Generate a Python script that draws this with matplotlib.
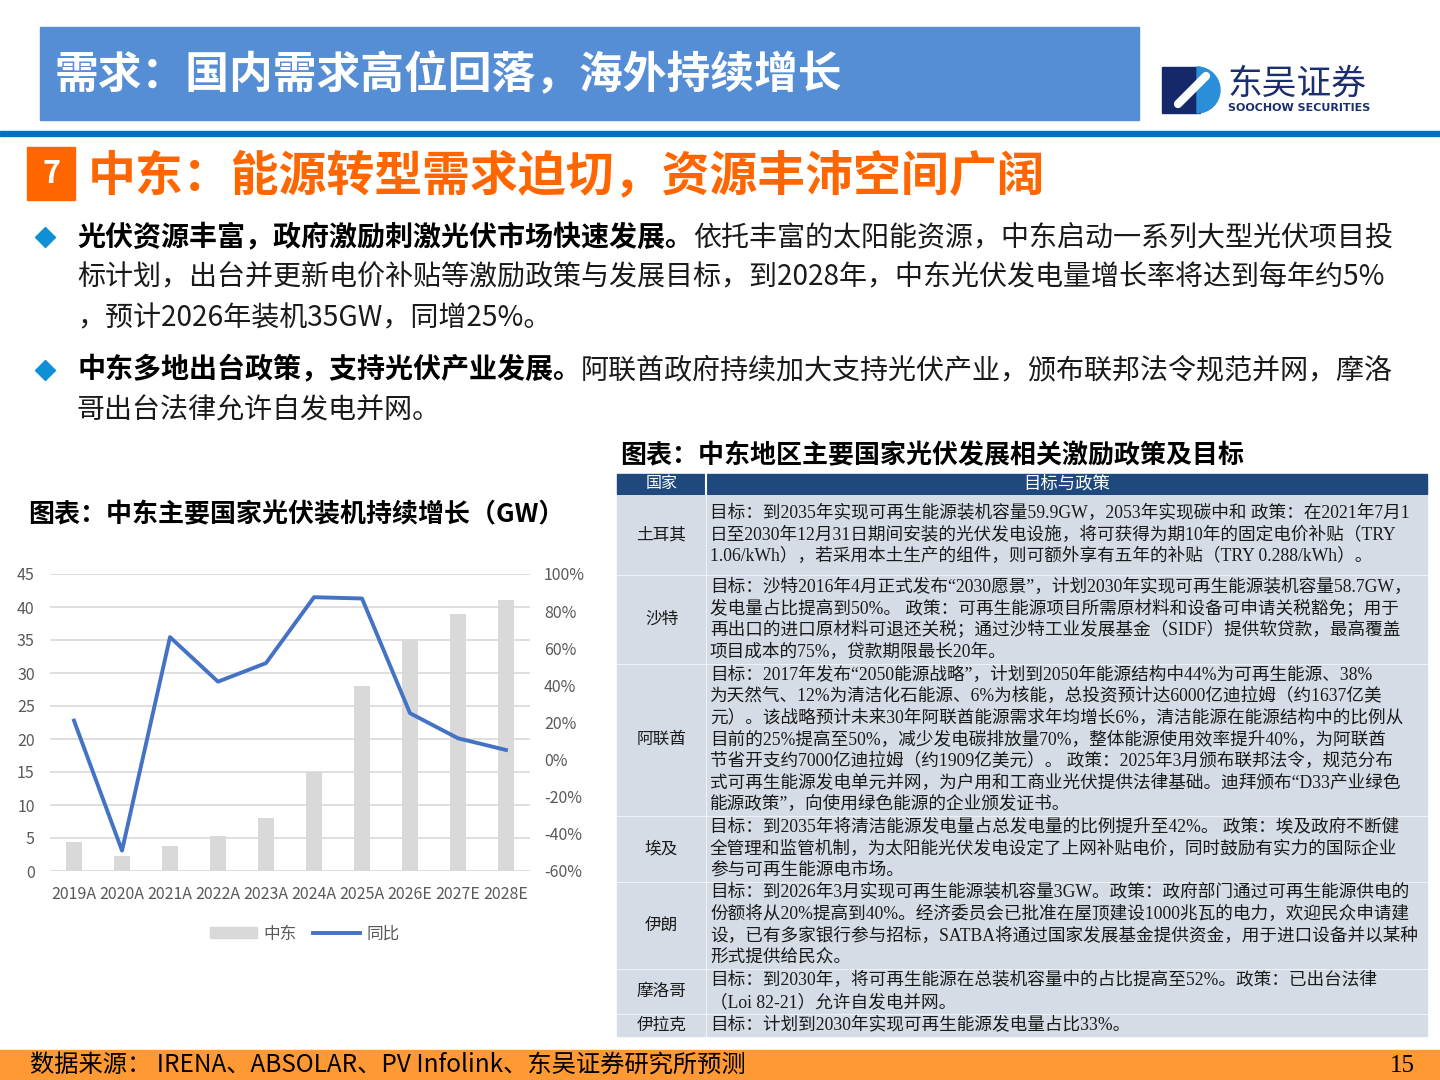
import numpy as np
import matplotlib
matplotlib.use('Agg')
import matplotlib.pyplot as plt
from matplotlib.patches import Rectangle, Wedge
from matplotlib.lines import Line2D

plt.rcParams['font.family'] = ['Noto Sans CJK SC', 'DejaVu Sans']

# chart data
years = ['2019A', '2020A', '2021A', '2022A', '2023A', '2024A', '2025A', '2026E', '2027E', '2028E']
install_gw = [4.4, 2.3, 3.8, 5.3, 8.0, 15.0, 28.0, 35.0, 39.0, 41.0]
yoy = [0.21, -0.49, 0.66, 0.42, 0.52, 0.875, 0.868, 0.25, 0.115, 0.052]
left_ticks = [0, 5, 10, 15, 20, 25, 30, 35, 40, 45]
right_ticks = [-0.6, -0.4, -0.2, 0.0, 0.2, 0.4, 0.6, 0.8, 1.0]

# table content
countries = ['土耳其', '沙特', '阿联酋', '埃及', '伊朗', '摩洛哥', '伊拉克']
policies = [
    ['目标：到2035年实现可再生能源装机容量59.9GW，2053年实现碳中和 政策：在2021年7月1',
     '日至2030年12月31日期间安装的光伏发电设施，将可获得为期10年的固定电价补贴（TRY',
     '1.06/kWh），若采用本土生产的组件，则可额外享有五年的补贴（TRY 0.288/kWh）。'],
    ['目标：沙特2016年4月正式发布“2030愿景”，计划2030年实现可再生能源装机容量58.7GW，',
     '发电量占比提高到50%。 政策：可再生能源项目所需原材料和设备可申请关税豁免；用于',
     '再出口的进口原材料可退还关税；通过沙特工业发展基金（SIDF）提供软贷款，最高覆盖',
     '项目成本的75%，贷款期限最长20年。'],
    ['目标：2017年发布“2050能源战略”，计划到2050年能源结构中44%为可再生能源、38%',
     '为天然气、12%为清洁化石能源、6%为核能，总投资预计达6000亿迪拉姆（约1637亿美',
     '元）。该战略预计未来30年阿联酋能源需求年均增长6%，清洁能源在能源结构中的比例从',
     '目前的25%提高至50%，减少发电碳排放量70%，整体能源使用效率提升40%，为阿联酋',
     '节省开支约7000亿迪拉姆（约1909亿美元）。 政策：2025年3月颁布联邦法令，规范分布',
     '式可再生能源发电单元并网，为户用和工商业光伏提供法律基础。迪拜颁布“D33产业绿色',
     '能源政策”，向使用绿色能源的企业颁发证书。'],
    ['目标：到2035年将清洁能源发电量占总发电量的比例提升至42%。 政策：埃及政府不断健',
     '全管理和监管机制，为太阳能光伏发电设定了上网补贴电价，同时鼓励有实力的国际企业',
     '参与可再生能源电市场。'],
    ['目标：到2026年3月实现可再生能源装机容量3GW。政策：政府部门通过可再生能源供电的',
     '份额将从20%提高到40%。经济委员会已批准在屋顶建设1000兆瓦的电力，欢迎民众申请建',
     '设，已有多家银行参与招标，SATBA将通过国家发展基金提供资金，用于进口设备并以某种',
     '形式提供给民众。'],
    ['目标：到2030年，将可再生能源在总装机容量中的占比提高至52%。政策：已出台法律',
     '（Loi 82-21）允许自发电并网。'],
    ['目标：计划到2030年实现可再生能源发电量占比33%。'],
]
row_top = [496, 576, 665, 817, 883, 970, 1015]
row_bot = [574, 663, 815, 881, 968, 1013, 1036]

bullets = [
    ('光伏资源丰富，政府激励刺激光伏市场快速发展。',
     ['依托丰富的太阳能资源，中东启动一系列大型光伏项目投',
      '标计划，出台并更新电价补贴等激励政策与发展目标，到2028年，中东光伏发电量增长率将达到每年约5%',
      '，预计2026年装机35GW，同增25%。']),
    ('中东多地出台政策，支持光伏产业发展。',
     ['阿联酋政府持续加大支持光伏产业，颁布联邦法令规范并网，摩洛',
      '哥出台法律允许自发电并网。']),
]

serif = ['Liberation Serif', 'Noto Sans CJK SC']

fig = plt.figure(figsize=(14.4, 10.8), dpi=100)
bg = fig.add_axes([0, 0, 1, 1])
bg.set_xlim(0, 1440)
bg.set_ylim(1080, 0)
bg.axis('off')
r = fig.canvas.get_renderer()

# header
bg.add_patch(Rectangle((40, 27), 1099, 93, color='#558ED5'))
bg.text(55, 74, '需求：国内需求高位回落，海外持续增长', fontsize=31.5, fontweight='bold',
        color='white', va='center')
bg.add_patch(Rectangle((0, 131), 1440, 5, color='#0070C0'))

# logo
bg.add_patch(Rectangle((1162, 67), 38, 46, color='#14286A'))
bg.add_patch(Wedge((1197, 90), 23, -90, 90, color='#2A8FD8'))
bg.plot([1178, 1206], [104, 76], color='white', lw=6, solid_capstyle='round')
bg.text(1228, 84, '东吴证券', fontsize=25, color='#1B2F6E', va='center')
bg.text(1228, 108, 'SOOCHOW SECURITIES', fontsize=8, fontweight='bold', color='#1B2F6E',
        va='center', family='DejaVu Sans')

# section title
bg.add_patch(Rectangle((27, 147), 48, 53, color='#FF6600'))
bg.text(51, 174, '7', fontsize=22, fontweight='bold', color='white', ha='center', va='center')
bg.text(88, 176, '中东：能源转型需求迫切，资源丰沛空间广阔', fontsize=34.5, fontweight='bold',
        color='#FF6600', va='center')

# bullets
line_y = [[237, 277, 318], [370, 410]]
for (bold, rest), ys in zip(bullets, line_y):
    bg.plot(45, ys[0], marker='D', ms=10, color='#0E8FD6')
    t = bg.text(77, ys[0], bold, fontsize=20.2, fontweight='bold', color='black', va='center')
    x_end = t.get_window_extent(r).x1
    for i, (ln, y) in enumerate(zip(rest, ys)):
        bg.text(x_end if i == 0 else 77, y, ln, fontsize=20.2, color='#1a1a1a', va='center')

# chart titles
bg.text(28, 515, '图表：中东主要国家光伏装机持续增长（GW）', fontsize=18.7, fontweight='bold', va='center')
bg.text(620, 456, '图表：中东地区主要国家光伏发展相关激励政策及目标', fontsize=18.7, fontweight='bold', va='center')

# bar + line chart
ax = fig.add_axes([50 / 1440, 1 - 871 / 1080, 480 / 1440, 297 / 1080])
x = np.arange(len(years))
ax.bar(x, install_gw, width=0.33, color='#D9D9D9', zorder=2)
ax.set_xlim(-0.5, len(years) - 0.5)
ax.set_ylim(0, 45)
ax.set_yticks(left_ticks)
ax.set_xticks(x)
ax.set_xticklabels(years)
ax.yaxis.grid(True, color='#D9D9D9', lw=1.2, zorder=0)
ax.set_axisbelow(True)
for s in ax.spines.values():
    s.set_visible(False)
ax.tick_params(length=0, labelcolor='#595959', labelsize=11.5)
ax.tick_params(axis='y', pad=11)
ax.tick_params(axis='x', pad=11)

ax2 = ax.twinx()
ax2.plot(x, yoy, color='#4472C4', lw=2.8, zorder=3)
ax2.set_ylim(-0.6, 1.0)
ax2.set_yticks(right_ticks)
ax2.set_yticklabels(['%d%%' % round(v * 100) for v in right_ticks])
for s in ax2.spines.values():
    s.set_visible(False)
ax2.tick_params(length=0, labelcolor='#595959', labelsize=11.5, pad=10)

handles = [Rectangle((0, 0), 1, 1, color='#D9D9D9'), Line2D([], [], color='#4472C4', lw=2.8)]
fig.legend(handles, ['中东', '同比'], loc='center', bbox_to_anchor=(305 / 1440, 1 - 934 / 1080),
           ncol=2, frameon=False, fontsize=12, labelcolor='#595959', handlelength=2.8,
           handleheight=0.6, columnspacing=1.0, handletextpad=0.4)

# table
tl, tdiv, tr = 617, 706, 1427
bg.add_patch(Rectangle((tl, 474), tr - tl, 20, color='#1F497D'))
bg.plot([tdiv, tdiv], [474, 494], color='white', lw=1.5)
bg.text((tl + tdiv) / 2, 484, '国家', fontsize=11.5, color='white', ha='center', va='center', family=serif)
bg.text((tdiv + tr) / 2, 484, '目标与政策', fontsize=12.5, color='white', ha='center', va='center')
for name, lines, top, bot in zip(countries, policies, row_top, row_bot):
    bg.add_patch(Rectangle((tl, top), tdiv - 1 - tl, bot - top, color='#D6DCE5'))
    bg.add_patch(Rectangle((tdiv + 1, top), tr - tdiv - 1, bot - top, color='#D6DCE5'))
    mid = (top + bot) / 2
    bg.text((tl + tdiv) / 2, mid, name, fontsize=12, color='#1a1a1a', ha='center', va='center', family=serif)
    n = len(lines)
    for i, ln in enumerate(lines):
        bg.text(710, mid + (i - (n - 1) / 2) * 21.6, ln, fontsize=12.7, color='#1a1a1a',
                va='center', family=serif)

# footer
bg.add_patch(Rectangle((0, 1050), 1440, 30, color='#FF9933'))
bg.text(30, 1066, '数据来源： IRENA、ABSOLAR、PV Infolink、东吴证券研究所预测', fontsize=17.5,
        color='black', va='center')
bg.text(1402, 1066, '15', fontsize=18, color='black', ha='center', va='center', family=serif)

fig.savefig('out.png', dpi=100)
